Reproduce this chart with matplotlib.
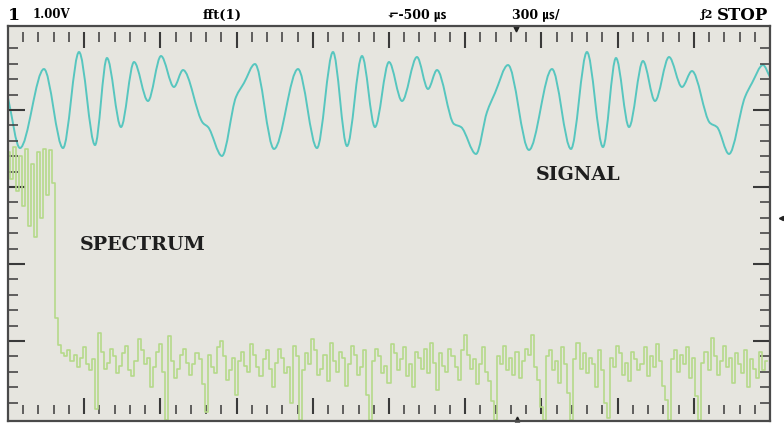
import matplotlib.pyplot as plt
import numpy as np
from matplotlib.path import Path
from matplotlib.patches import PathPatch

# signal trace (x in divisions, y in divisions)
sig_x = [0.000, 0.157, 0.472, 0.722, 0.932, 1.142, 1.299, 1.483, 1.654, 1.837,
         2.008, 2.178, 2.297, 2.559, 2.625, 2.808, 2.992, 3.097, 3.241, 3.491,
         3.806, 4.055, 4.265, 4.449, 4.646, 4.816, 5.000, 5.171, 5.367, 5.512,
         5.630, 5.853, 5.945, 6.142, 6.286, 6.391, 6.562, 6.837, 7.139, 7.388,
         7.598, 7.808, 7.979, 8.150, 8.333, 8.491, 8.675, 8.845, 8.976, 9.213,
         9.304, 9.462, 9.672, 9.764, 9.908, 10.000]
sig_y = [4.156, 3.506, 4.532, 3.506, 4.753, 3.545, 4.675, 3.779, 4.623, 4.117,
         4.701, 4.299, 4.519, 3.831, 3.779, 3.403, 4.169, 4.351, 4.597, 3.494,
         4.532, 3.506, 4.753, 3.532, 4.701, 3.779, 4.623, 4.117, 4.688, 4.273,
         4.519, 3.818, 3.779, 3.429, 3.974, 4.221, 4.584, 3.481, 4.532, 3.494,
         4.753, 3.519, 4.675, 3.779, 4.636, 4.117, 4.688, 4.299, 4.506, 3.831,
         3.779, 3.429, 4.169, 4.351, 4.584, 4.429]

# fft spectrum, one value every 0.04 division
spec_y = [3.45, 3.10, 3.52, 2.95, 3.40, 2.75, 3.50, 2.50, 3.30, 2.35,
          3.45, 2.60, 3.50, 2.90, 3.48, 3.05, 1.30, 0.95,
          0.84, 0.80, 0.88, 0.74, 0.82, 0.66, 0.78, 0.92, 0.70, 0.62,
          0.76, 0.12, 1.10, 0.86, 0.64, 0.72, 0.90, 0.80, 0.58, 0.68,
          0.84, 0.94, 0.62, 0.54, 0.74, 1.02, 0.88, 0.70, 0.78, 0.40,
          0.66, 0.86, 0.96, 0.60, -0.02, 1.06, 0.74, 0.52, 0.64, 0.82,
          0.90, 0.72, 0.56, 0.70, 0.84, 0.76, 0.44, 0.08, 0.82, 0.66,
          0.58, 0.92, 1.00, 0.80, 0.50, 0.62, 0.78, 0.30, 0.74, 0.86,
          0.68, 0.60, 0.96, 0.82, 0.66, 0.54, 0.76, 0.88, 0.64, 0.40,
          0.72, 0.90, 0.78, 0.58, 0.66, 0.20, 0.94, 0.80, -0.02, 0.62,
          0.84, 0.70, 1.02, 0.88, 0.56, 0.64, 0.82, 0.48, 0.98, 0.74,
          0.60, 0.86, 0.78, 0.42, 0.70, 0.94, 0.82, 0.56, 0.66, 0.88,
          0.30, -0.02, 0.74, 0.90, 0.80, 0.58, 0.68, 0.46, 0.96, 0.84,
          0.62, 0.76, 0.92, 0.54, 0.70, 0.40, 0.86, 0.78, 0.64, 0.90,
          0.58, 0.98, 0.72, 0.36, 0.84, 0.68, 0.60, 0.90, 0.80, 0.66,
          0.50, 0.88, 1.08, 0.82, 0.64, 0.76, 0.44, 0.70, 0.92, 0.60,
          0.48, 0.22, -0.02, 0.80, 0.70, 0.94, 0.62, 0.78, 0.56, 0.86,
          0.52, 0.74, 0.90, 0.82, 1.08, 0.66, 0.50, 0.14, -0.02, 0.80,
          0.88, 0.62, 0.74, 0.46, 0.92, 0.70, 0.32, -0.02, 0.76, 0.98,
          0.64, 0.84, 0.58, 0.78, 0.70, 0.40, 0.88, 0.62, 0.20, 0.00,
          0.78, 0.66, 0.94, 0.84, 0.56, 0.72, 0.48, 0.86, 0.76, 0.62,
          0.70, 0.92, 0.54, 0.80, 0.66, 0.96, 0.74, 0.42, 0.24, -0.02,
          0.76, 0.88, 0.60, 0.82, 0.70, 0.92, 0.52, 0.78, 0.28, -0.02,
          0.72, 0.86, 0.62, 1.04, 0.80, 0.56, 0.74, 0.94, 0.66, 0.78,
          0.46, 0.84, 0.70, 0.58, 0.88, 0.40, 0.76, 0.64, 0.52, 0.86, 0.62, 0.74]
spec_x = np.arange(len(spec_y)) * 0.04

header = ['1', '1.00V', 'fft(1)', '\u2b10-500 \u33b2', '300 \u33b2/', '\u01922', 'STOP']

BG = '#e6e5df'
CYAN = '#57c6bf'
GREEN = '#b5d98a'
INK = '#3a3a3a'
FONT = ['DejaVu Serif', 'DejaVu Sans', 'Noto Sans CJK JP']


def smooth_path(x, y):
    # monotone cubic through the read points, drawn as bezier segments
    x = np.asarray(x, float)
    y = np.asarray(y, float)
    h = np.diff(x)
    d = np.diff(y) / h
    m = np.zeros_like(y)
    m[0], m[-1] = d[0], d[-1]
    for i in range(1, len(y) - 1):
        if d[i - 1] * d[i] > 0:
            w1 = 2 * h[i] + h[i - 1]
            w2 = h[i] + 2 * h[i - 1]
            m[i] = (w1 + w2) / (w1 / d[i - 1] + w2 / d[i])
    verts = [(x[0], y[0])]
    codes = [Path.MOVETO]
    for i in range(len(x) - 1):
        verts += [(x[i] + h[i] / 3, y[i] + m[i] * h[i] / 3),
                  (x[i + 1] - h[i] / 3, y[i + 1] - m[i + 1] * h[i] / 3),
                  (x[i + 1], y[i + 1])]
        codes += [Path.CURVE4] * 3
    return Path(verts, codes)


fig = plt.figure(figsize=(7.84, 4.23), dpi=100)
ax = fig.add_axes([8 / 784, 2 / 423, 762 / 784, 395 / 423])
ax.set_xlim(0, 10)
ax.set_ylim(-3 / 77, 5 + 7 / 77)
ax.set_facecolor(BG)
ax.set_xticks([])
ax.set_yticks([])
for s in ax.spines.values():
    s.set_color('#4a4a4a')
    s.set_linewidth(1.6)

# graticule ticks
xt = np.arange(1, 50) * 0.2
xmaj = np.isclose(xt % 1, 0) | np.isclose(xt % 1, 1)
ax.vlines(xt[~xmaj], 4.88, 5.01, color=INK, lw=1.1)
ax.vlines(xt[xmaj], 4.80, 5.01, color=INK, lw=1.5)
ax.vlines(xt[~xmaj], 0.05, 0.17, color=INK, lw=1.1)
ax.vlines(xt[xmaj], 0.05, 0.26, color=INK, lw=1.5)
yt = np.arange(1, 25) * 0.2
ymaj = np.isclose(yt % 1, 0) | np.isclose(yt % 1, 1)
ax.hlines(yt[~ymaj], 0, 0.13, color=INK, lw=1.1)
ax.hlines(yt[ymaj], 0, 0.22, color=INK, lw=1.5)
ax.hlines(yt[~ymaj], 9.87, 10, color=INK, lw=1.1)
ax.hlines(yt[ymaj], 9.78, 10, color=INK, lw=1.5)

# traces
ax.plot(spec_x, spec_y, drawstyle='steps-mid', color=GREEN, lw=1.2)
ax.add_patch(PathPatch(smooth_path(sig_x, sig_y), fill=False,
                       edgecolor=CYAN, lw=1.4))

# trigger markers
ax.plot([6.67], [5.05], marker='v', ms=3.5, color='#222', clip_on=False)
ax.plot([6.68], [-0.015], marker='^', ms=3.5, color='#222', clip_on=False)
ax.plot([10.14], [2.6], marker='<', ms=3, color='#222', clip_on=False)

ax.text(6.93, 3.15, 'SIGNAL', family=FONT, fontweight='bold', fontsize=13.8,
        color='#1e1e1e', va='center', ha='left')
ax.text(0.94, 2.25, 'SPECTRUM', family=FONT, fontweight='bold', fontsize=13.8,
        color='#1e1e1e', va='center', ha='left')

# header line
hy = 1 - 15 / 423
fig.text(8 / 784, hy, header[0], family=FONT, fontweight='bold', fontsize=12.5, va='center')
fig.text(33 / 784, hy, header[1], family=FONT, fontweight='bold', fontsize=8.5, va='center')
fig.text(222 / 784, hy, header[2], family=FONT, fontweight='bold', fontsize=9.5,
         va='center', ha='center')
fig.text(388 / 784, hy, header[3], family=FONT, fontweight='bold', fontsize=9, va='center')
fig.text(512 / 784, hy, header[4], family=FONT, fontweight='bold', fontsize=9, va='center')
fig.text(700 / 784, hy, header[5], family=FONT, fontweight='bold', fontsize=8, va='center')
fig.text(768 / 784, hy, header[6], family=FONT, fontweight='bold', fontsize=12,
         va='center', ha='right')

fig.savefig('out.png', dpi=100, facecolor='white')
